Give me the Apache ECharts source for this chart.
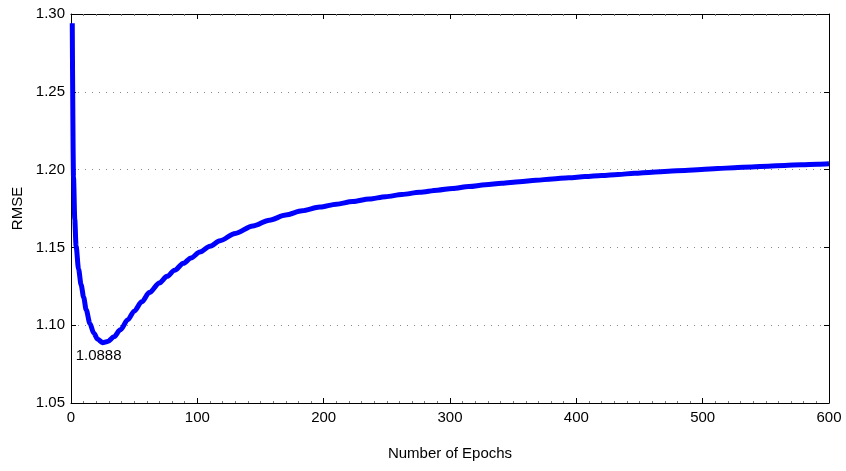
<!DOCTYPE html>
<html>
<head>
<meta charset="utf-8">
<script src="https://cdn.jsdelivr.net/npm/echarts@6/dist/echarts.min.js"></script>
<style>html,body{margin:0;padding:0;background:#fff;}#c{width:846px;height:471px;}</style>
</head>
<body>
<div id="c"></div>
<script>
var epochs = [1, 2, 3, 4, 6, 8, 10, 12, 15, 18, 21, 25, 29, 34, 39, 45, 50, 56, 62, 70, 76, 82, 89, 95, 102, 110, 118, 130, 144, 157, 170, 183, 197, 210, 223, 236, 249, 262, 276, 290, 302, 315, 328, 341, 355, 368, 381, 394, 407, 420, 433, 446, 460, 473, 486, 499, 512, 525, 539, 552, 565, 578, 591, 600];
var rmse = [1.294, 1.195, 1.168, 1.151, 1.136, 1.126, 1.118, 1.110, 1.101, 1.095, 1.091, 1.0888, 1.0895, 1.0925, 1.097, 1.1035, 1.109, 1.115, 1.121, 1.1272, 1.1314, 1.1353, 1.1398, 1.1432, 1.1470, 1.1508, 1.1543, 1.1590, 1.1638, 1.1675, 1.1708, 1.1735, 1.1759, 1.1778, 1.1795, 1.1811, 1.1826, 1.1840, 1.1854, 1.1868, 1.1879, 1.1891, 1.1902, 1.1912, 1.1922, 1.1931, 1.1940, 1.1948, 1.1955, 1.1962, 1.1969, 1.1976, 1.1983, 1.1989, 1.1995, 1.2001, 1.2007, 1.2012, 1.2017, 1.2022, 1.2027, 1.2031, 1.2035, 1.2038];
var minEpoch = 25;
var minValue = 1.0888;
var xTicks = [0, 100, 200, 300, 400, 500, 600];
var yTicks = ['1.05', '1.10', '1.15', '1.20', '1.25', '1.30'];

var pts = epochs.map(function (e, i) { return [e, rmse[i]]; });
var font = 'Liberation Sans, Arial, Helvetica, sans-serif';
var fs = 15;
var axisLine = { show: true, onZero: false, lineStyle: { color: '#000', width: 1 } };
var chart = echarts.init(document.getElementById('c'));
chart.setOption({
  animation: false,
  backgroundColor: '#fff',
  grid: { left: 71, right: 17, top: 14, bottom: 68, containLabel: false },
  xAxis: [{
    type: 'value', min: 0, max: 600, interval: 100,
    name: 'Number of Epochs', nameLocation: 'middle', nameGap: 43,
    nameTextStyle: { fontFamily: font, fontSize: fs, color: '#000' },
    axisLine: axisLine,
    axisTick: { show: true, inside: true, length: 5, lineStyle: { color: '#000' } },
    minorTick: { show: true, splitNumber: 10, length: 2, lineStyle: { color: '#777' } },
    axisLabel: { fontFamily: font, fontSize: fs, color: '#000', margin: 7,
      formatter: function (v) { return xTicks.indexOf(v) >= 0 ? String(v) : ''; } },
    splitLine: { show: false }
  }, {
    type: 'value', min: 0, max: 600, interval: 100, position: 'top',
    axisLine: axisLine,
    axisTick: { show: true, inside: true, length: 5, lineStyle: { color: '#000' } },
    minorTick: { show: true, splitNumber: 10, length: 2, lineStyle: { color: '#777' } },
    axisLabel: { show: false }, splitLine: { show: false }
  }],
  yAxis: [{
    type: 'value', min: 1.05, max: 1.30, interval: 0.05,
    name: 'RMSE', nameLocation: 'middle', nameGap: 45,
    nameTextStyle: { fontFamily: font, fontSize: fs, color: '#000' },
    axisLine: axisLine,
    axisTick: { show: true, inside: true, length: 5, lineStyle: { color: '#000' } },
    axisLabel: { fontFamily: font, fontSize: fs, color: '#000', margin: 6,
      formatter: function (v) { var s = v.toFixed(2); return yTicks.indexOf(s) >= 0 ? s : ''; } },
    splitLine: { show: true, lineStyle: { color: '#888', type: [1, 6], width: 1 } }
  }, {
    type: 'value', min: 1.05, max: 1.30, interval: 0.05, position: 'right',
    axisLine: axisLine,
    axisTick: { show: true, inside: true, length: 5, lineStyle: { color: '#000' } },
    axisLabel: { show: false }, splitLine: { show: false }
  }],
  series: [{
    type: 'line', data: pts, xAxisIndex: 0, yAxisIndex: 0,
    showSymbol: false, symbol: 'none', smooth: 0.3, smoothMonotone: 'x',
    lineStyle: { color: '#0000ff', width: 5 },
    markPoint: {
      symbol: 'circle', symbolSize: 1, itemStyle: { color: 'rgba(0,0,0,0)' },
      data: [{ coord: [minEpoch, minValue], value: minValue }],
      label: { show: true, position: 'bottom', offset: [-4, 0], distance: 5,
        fontFamily: font, fontSize: fs, color: '#000',
        formatter: function () { return minValue.toFixed(4); } }
    }
  }]
});
</script>
</body>
</html>
